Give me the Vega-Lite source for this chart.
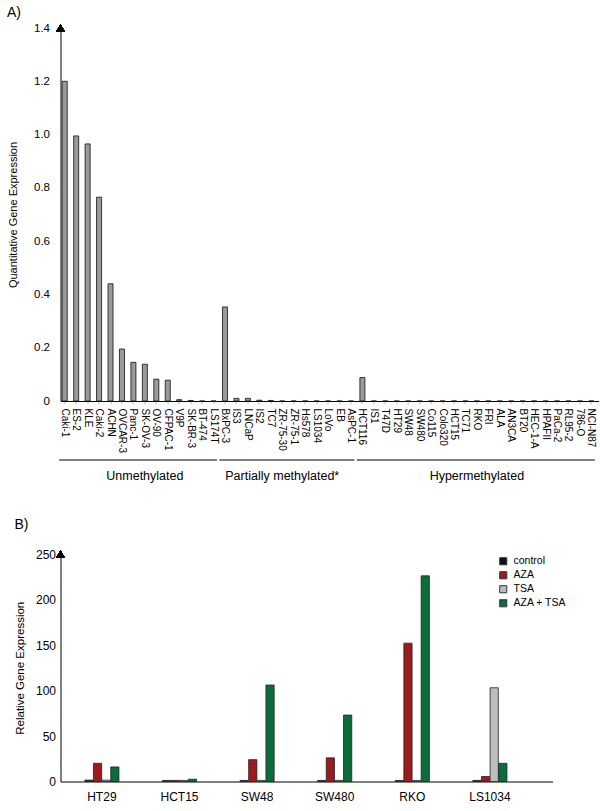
{
  "$schema": "https://vega.github.io/schema/vega-lite/v6.json",
  "padding": {"left": 6.5, "top": 6, "right": 0, "bottom": 0},
  "background": "white",
  "config": {
    "font": "Liberation Sans",
    "view": {"stroke": null},
    "axis": {"domainColor": "#000", "labelColor": "#000", "titleColor": "#000", "titleFontWeight": "normal", "grid": false, "labelFont": "Liberation Sans", "titleFont": "Liberation Sans"},
    "title": {"font": "Liberation Sans", "fontWeight": "normal", "fontSize": 14, "anchor": "start", "frame": "bounds", "color": "#000"}
  },
  "datasets": {
    "lines": [
      {"cell": "Caki-1", "value": 1.2, "group": "Unmethylated"},
      {"cell": "ES-2", "value": 0.995, "group": "Unmethylated"},
      {"cell": "KLE", "value": 0.965, "group": "Unmethylated"},
      {"cell": "Caki-2", "value": 0.765, "group": "Unmethylated"},
      {"cell": "ACHN", "value": 0.44, "group": "Unmethylated"},
      {"cell": "OVCAR-3", "value": 0.195, "group": "Unmethylated"},
      {"cell": "Panc-1", "value": 0.145, "group": "Unmethylated"},
      {"cell": "SK-OV-3", "value": 0.138, "group": "Unmethylated"},
      {"cell": "OV-90", "value": 0.082, "group": "Unmethylated"},
      {"cell": "CFPAC-1", "value": 0.078, "group": "Unmethylated"},
      {"cell": "V9P", "value": 0.005, "group": "Unmethylated"},
      {"cell": "SK-BR-3", "value": 0.002, "group": "Unmethylated"},
      {"cell": "BT-474", "value": 0, "group": "Unmethylated"},
      {"cell": "LS174T", "value": 0, "group": "Unmethylated"},
      {"cell": "BxPC-3", "value": 0.353, "group": "Partially methylated"},
      {"cell": "IS3", "value": 0.01, "group": "Partially methylated"},
      {"cell": "LNCaP", "value": 0.01, "group": "Partially methylated"},
      {"cell": "IS2", "value": 0.003, "group": "Partially methylated"},
      {"cell": "TC7", "value": 0.002, "group": "Partially methylated"},
      {"cell": "ZR-75-30", "value": 0, "group": "Partially methylated"},
      {"cell": "ZR-75-1", "value": 0, "group": "Partially methylated"},
      {"cell": "Hs578", "value": 0, "group": "Partially methylated"},
      {"cell": "LS1034", "value": 0, "group": "Partially methylated"},
      {"cell": "LoVo", "value": 0, "group": "Partially methylated"},
      {"cell": "EB", "value": 0, "group": "Partially methylated"},
      {"cell": "AsPC-1", "value": 0, "group": "Partially methylated"},
      {"cell": "HCT116", "value": 0.088, "group": "Hypermethylated"},
      {"cell": "IS1", "value": 0, "group": "Hypermethylated"},
      {"cell": "T47D", "value": 0, "group": "Hypermethylated"},
      {"cell": "HT29", "value": 0, "group": "Hypermethylated"},
      {"cell": "SW48", "value": 0, "group": "Hypermethylated"},
      {"cell": "SW480", "value": 0, "group": "Hypermethylated"},
      {"cell": "Co115", "value": 0, "group": "Hypermethylated"},
      {"cell": "Colo320", "value": 0, "group": "Hypermethylated"},
      {"cell": "HCT15", "value": 0, "group": "Hypermethylated"},
      {"cell": "TC71", "value": 0, "group": "Hypermethylated"},
      {"cell": "RKO", "value": 0, "group": "Hypermethylated"},
      {"cell": "FRI", "value": 0, "group": "Hypermethylated"},
      {"cell": "ALA", "value": 0, "group": "Hypermethylated"},
      {"cell": "AN3CA", "value": 0, "group": "Hypermethylated"},
      {"cell": "BT20", "value": 0, "group": "Hypermethylated"},
      {"cell": "HEC-1-A", "value": 0, "group": "Hypermethylated"},
      {"cell": "HPAFII", "value": 0, "group": "Hypermethylated"},
      {"cell": "PaCa-2", "value": 0, "group": "Hypermethylated"},
      {"cell": "RL95-2", "value": 0, "group": "Hypermethylated"},
      {"cell": "786-O", "value": 0, "group": "Hypermethylated"},
      {"cell": "NCI-N87", "value": 0, "group": "Hypermethylated"}
    ],
    "groups": [
      {"first": "Caki-1", "last": "LS174T", "mid": "SK-OV-3", "label": "Unmethylated"},
      {"first": "BxPC-3", "last": "AsPC-1", "mid": "ZR-75-30", "label": "Partially methylated*"},
      {"first": "HCT116", "last": "NCI-N87", "mid": "RKO", "label": "Hypermethylated"}
    ],
    "treat": [
      {"cell": "HT29", "treatment": "control", "value": 1.5},
      {"cell": "HT29", "treatment": "AZA", "value": 20},
      {"cell": "HT29", "treatment": "TSA", "value": 1.5},
      {"cell": "HT29", "treatment": "AZA + TSA", "value": 16},
      {"cell": "HCT15", "treatment": "control", "value": 1.2},
      {"cell": "HCT15", "treatment": "AZA", "value": 1.2},
      {"cell": "HCT15", "treatment": "TSA", "value": 1.2},
      {"cell": "HCT15", "treatment": "AZA + TSA", "value": 2.5},
      {"cell": "SW48", "treatment": "control", "value": 1.2},
      {"cell": "SW48", "treatment": "AZA", "value": 24},
      {"cell": "SW48", "treatment": "TSA", "value": 1.2},
      {"cell": "SW48", "treatment": "AZA + TSA", "value": 106},
      {"cell": "SW480", "treatment": "control", "value": 1.2},
      {"cell": "SW480", "treatment": "AZA", "value": 26},
      {"cell": "SW480", "treatment": "TSA", "value": 1.2},
      {"cell": "SW480", "treatment": "AZA + TSA", "value": 73},
      {"cell": "RKO", "treatment": "control", "value": 1.2},
      {"cell": "RKO", "treatment": "AZA", "value": 152},
      {"cell": "RKO", "treatment": "TSA", "value": 1.2},
      {"cell": "RKO", "treatment": "AZA + TSA", "value": 226},
      {"cell": "LS1034", "treatment": "control", "value": 1.2},
      {"cell": "LS1034", "treatment": "AZA", "value": 5.5},
      {"cell": "LS1034", "treatment": "TSA", "value": 103},
      {"cell": "LS1034", "treatment": "AZA + TSA", "value": 20}
    ]
  },
  "spacing": 34,
  "vconcat": [
    {
      "spacing": 6,
      "vconcat": [
        {
          "title": {"text": "A)", "offset": 2},
          "width": 538,
          "height": 373,
          "data": {"name": "lines"},
          "layer": [
            {
              "mark": {"type": "bar", "fill": "#9a9a9a", "stroke": "#111", "strokeWidth": 0.8},
              "encoding": {
                "x": {
                  "field": "cell", "type": "nominal",
                  "scale": {"domain": ["Caki-1","ES-2","KLE","Caki-2","ACHN","OVCAR-3","Panc-1","SK-OV-3","OV-90","CFPAC-1","V9P","SK-BR-3","BT-474","LS174T","BxPC-3","IS3","LNCaP","IS2","TC7","ZR-75-30","ZR-75-1","Hs578","LS1034","LoVo","EB","AsPC-1","HCT116","IS1","T47D","HT29","SW48","SW480","Co115","Colo320","HCT15","TC71","RKO","FRI","ALA","AN3CA","BT20","HEC-1-A","HPAFII","PaCa-2","RL95-2","786-O","NCI-N87"], "paddingInner": 0.56, "paddingOuter": 0.275, "align": 0.27},
                  "axis": {"title": null, "labelAngle": 90, "labelAlign": "left", "labelBaseline": "middle", "labelFontSize": 10, "labelPadding": 4, "tickSize": 3, "tickColor": "#bbb", "domainWidth": 1}
                },
                "y": {
                  "field": "value", "type": "quantitative",
                  "scale": {"domain": [0, 1.4], "nice": false},
                  "axis": {"title": "Quantitative Gene Expression", "titleFontSize": 11, "titlePadding": 15.5, "values": [0, 0.2, 0.4, 0.6, 0.8, 1.0, 1.2, 1.4], "labelExpr": "datum.value == 0 ? '0' : format(datum.value, '.1f')", "labelFontSize": 11.5, "ticks": false, "labelPadding": 11, "domainWidth": 1}
                }
              }
            },
            {
              "mark": {"type": "point", "shape": "triangle-up", "filled": true, "color": "#000", "size": 70, "opacity": 1},
              "encoding": {
                "x": {"datum": "Caki-1", "bandPosition": -0.337},
                "y": {"datum": 1.4}
              }
            }
          ]
        },
        {
          "width": 538,
          "height": 20,
          "data": {"name": "groups"},
          "layer": [
            {
              "mark": {"type": "rule", "color": "#000", "strokeWidth": 1},
              "encoding": {
                "x": {"field": "first", "type": "nominal", "bandPosition": -0.6,
                  "scale": {"domain": ["Caki-1","ES-2","KLE","Caki-2","ACHN","OVCAR-3","Panc-1","SK-OV-3","OV-90","CFPAC-1","V9P","SK-BR-3","BT-474","LS174T","BxPC-3","IS3","LNCaP","IS2","TC7","ZR-75-30","ZR-75-1","Hs578","LS1034","LoVo","EB","AsPC-1","HCT116","IS1","T47D","HT29","SW48","SW480","Co115","Colo320","HCT15","TC71","RKO","FRI","ALA","AN3CA","BT20","HEC-1-A","HPAFII","PaCa-2","RL95-2","786-O","NCI-N87"], "paddingInner": 0.56, "paddingOuter": 0.275, "align": 0.27},
                  "axis": null},
                "x2": {"field": "last", "bandPosition": 1.2},
                "y": {"datum": 1, "scale": {"domain": [0, 1]}, "axis": null}
              }
            },
            {
              "mark": {"type": "text", "fontSize": 12.5, "baseline": "alphabetic", "align": "center", "color": "#000"},
              "encoding": {
                "x": {"field": "mid", "type": "nominal", "bandPosition": 0.5},
                "y": {"datum": 0},
                "text": {"field": "label"}
              }
            }
          ]
        }
      ]
    },
    {
      "title": {"text": "B)", "offset": 16.5},
      "width": 492,
      "height": 227.5,
      "data": {"name": "treat"},
      "layer": [
        {
          "mark": {"type": "bar", "stroke": "#222", "strokeWidth": 0.8},
          "encoding": {
            "x": {"field": "cell", "type": "nominal", "sort": null,
              "scale": {"paddingInner": 0.56, "paddingOuter": 0.45, "align": 0.348},
              "axis": {"title": null, "labelAngle": 0, "labelFontSize": 12, "ticks": false, "labelPadding": 10, "domainWidth": 1}},
            "xOffset": {"field": "treatment", "type": "nominal", "sort": ["control", "AZA", "TSA", "AZA + TSA"], "scale": {"paddingInner": 0.05}},
            "y": {"field": "value", "type": "quantitative",
              "scale": {"domain": [0, 250], "nice": false},
              "axis": {"title": "Relative Gene Expression", "titleFontSize": 11.5, "titlePadding": 10, "values": [0, 50, 100, 150, 200, 250], "labelFontSize": 12, "ticks": false, "labelPadding": 5, "domainWidth": 1}},
            "color": {"field": "treatment", "type": "nominal",
              "scale": {"domain": ["control", "AZA", "TSA", "AZA + TSA"], "range": ["#111111", "#9b1b1e", "#bdbdbd", "#0b6e3a"]},
              "legend": {"title": null, "orient": "none", "legendX": 437.5, "legendY": 528, "symbolType": "square", "symbolSize": 50, "symbolStrokeColor": "#333", "symbolStrokeWidth": 1, "labelFontSize": 10.5, "labelColor": "#000", "rowPadding": 2, "labelOffset": 5}}
          }
        },
        {
          "mark": {"type": "point", "shape": "triangle-up", "filled": true, "color": "#000", "size": 70, "opacity": 1},
          "encoding": {
            "x": {"datum": "HT29", "bandPosition": -0.713},
            "y": {"datum": 250}
          }
        }
      ]
    }
  ]
}
